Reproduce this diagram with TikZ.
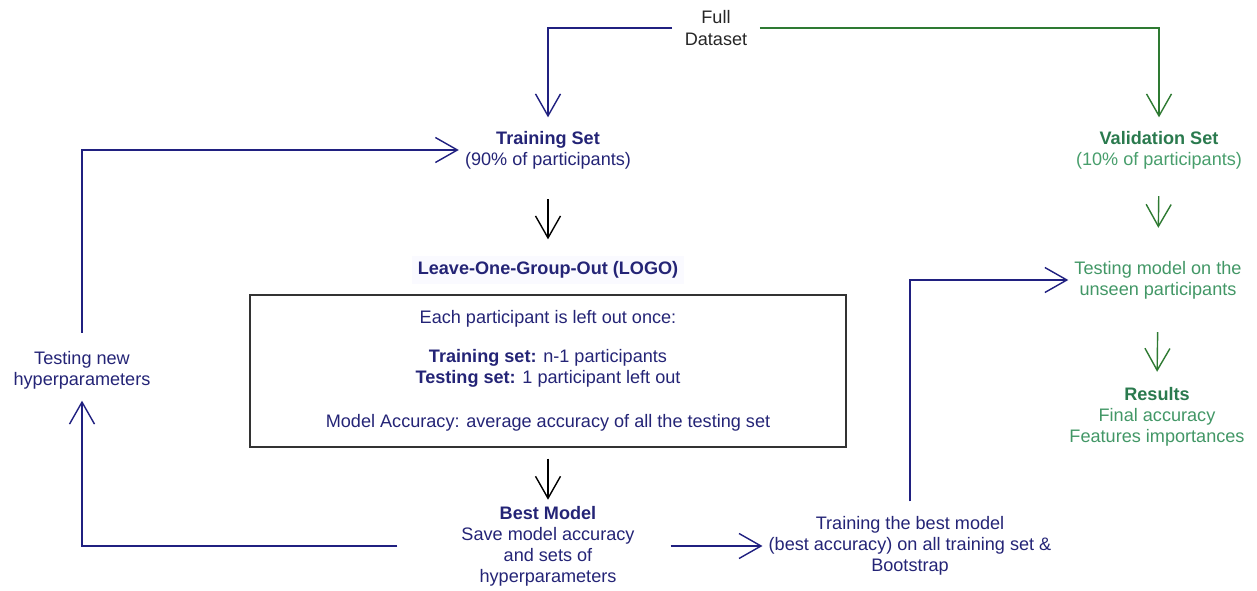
\documentclass[tikz,border=0pt]{standalone}
\usepackage{fontspec}
\setmainfont{Liberation Sans}
\usetikzlibrary{arrows.meta}

\definecolor{navy}{RGB}{32,32,128}
\definecolor{navytxt}{RGB}{36,36,118}
\definecolor{dkgreen}{RGB}{46,122,50}
\definecolor{grtxt}{RGB}{42,122,78}
\definecolor{ltgreen}{RGB}{72,158,108}

\tikzset{
  lbl/.style={align=center, font=\fontsize{10.3}{12}\selectfont},
  bluelbl/.style={lbl, text=navytxt},
  greenlbl/.style={lbl, text=grtxt},
  barb/.style={-{Straight Barb[length=.44cm,width=.5cm]}, line width=.8pt},
  bluearr/.style={barb, draw=navy},
  greenarr/.style={barb, draw=dkgreen},
  blackarr/.style={barb, draw=black}
}

\begin{document}
\begin{tikzpicture}
  \useasboundingbox (0,0) rectangle (25.14cm,11.8cm);

  \node[lbl, text=black!85, inner xsep=7pt] (full) at(14.32cm,11.24cm) {Full\\Dataset};
  \node[bluelbl] (train) at(10.96cm,8.8cm) {\textbf{Training Set}\\(90\% of participants)};
  \node[greenlbl] (valid) at(23.18cm,8.8cm) {\textbf{Validation Set}\\\textcolor{ltgreen}{(10\% of participants)}};
  \node[bluelbl, fill=blue!2] (logo) at(10.96cm,6.4cm) {\textbf{Leave-One-Group-Out (LOGO)}};
  \node[bluelbl, draw=black!80, line width=.8pt, minimum width=11.92cm, minimum height=3.04cm] (logobox) at(10.96cm,4.38cm)
    {Each participant is left out once:\\[10pt]
     \textbf{Training set:} n-1 participants\\
     \textbf{Testing set:} 1 participant left out\\[13pt]
     Model Accuracy: average accuracy of all the testing set};
  \node[bluelbl] (best) at(10.96cm,.88cm) {\textbf{Best Model}\\Save model accuracy\\and sets of\\hyperparameters};
  \node[bluelbl] (hyp) at(1.64cm,4.39cm) {Testing new\\hyperparameters};
  \node[bluelbl] (tbest) at(18.2cm,.88cm) {Training the best model\\(best accuracy) on all training set \&\\Bootstrap};
  \node[greenlbl, text=ltgreen!80!grtxt] (test) at(23.16cm,6.2cm) {Testing model on the\\unseen participants};
  \node[greenlbl] (res) at(23.14cm,3.47cm) {\textbf{Results}\\\textcolor{ltgreen!80!grtxt}{Final accuracy}\\\textcolor{ltgreen!80!grtxt}{Features importances}};

  \draw[bluearr, shorten >=.15cm] (full.west) -| (train.north);
  \draw[greenarr, shorten >=.15cm] (full.east) -| (valid.north);
  \draw[blackarr, shorten <=.48cm, shorten >=.32cm] (train.south) -- (logo.north);
  \draw[blackarr, shorten <=.22cm] (logobox.south) -- (best.north);
  \draw[greenarr, shorten <=.42cm, shorten >=.54cm] (valid.south) -- (test.north);
  \draw[greenarr, shorten <=.54cm, shorten >=.18cm] (test.south) -- (res.north);
  \draw[bluearr, shorten <=.25cm] (hyp.north) |- (train.west);
  \draw[bluearr, shorten >=.1cm] ([xshift=-1.16cm]best.west) -| (hyp.south);
  \draw[bluearr] ([xshift=.6cm]best.east) -- (tbest.west);
  \draw[bluearr, shorten <=.18cm] (tbest.north) |- (test.west);
\end{tikzpicture}
\end{document}
